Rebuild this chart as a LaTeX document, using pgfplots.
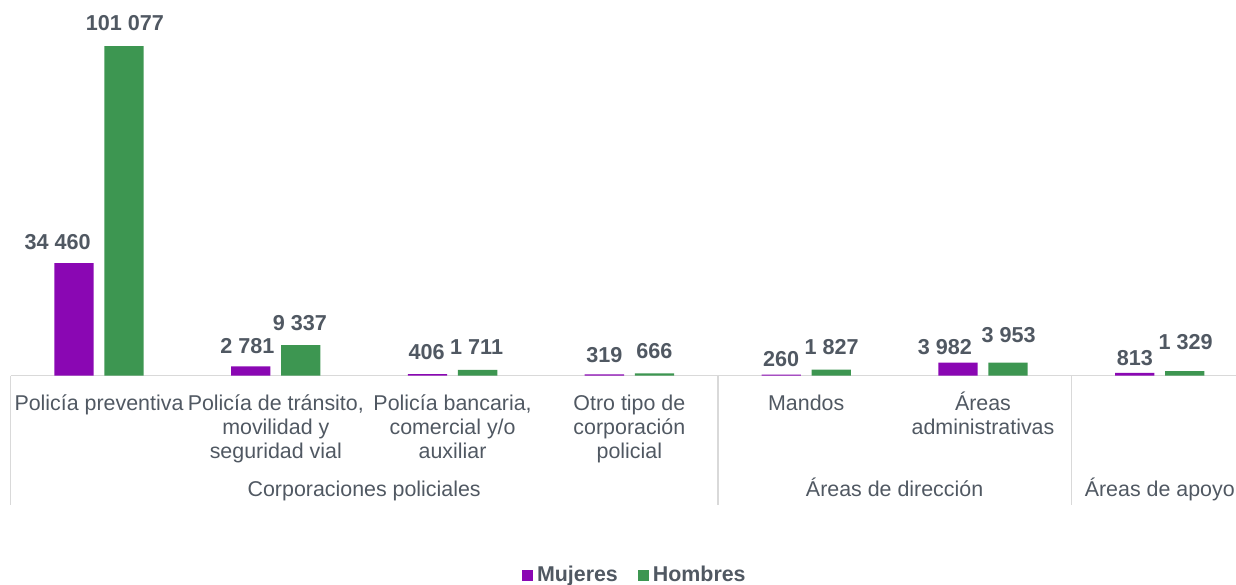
\documentclass[border=0pt]{standalone}
\usepackage{pgfplots}
\pgfplotsset{compat=1.18}
\usepackage{fontspec}
\setmainfont{Liberation Sans}
\definecolor{mpurple}{RGB}{138,7,179}
\definecolor{mgreen}{RGB}{61,150,81}
\definecolor{txt}{RGB}{80,88,98}
\definecolor{gridc}{RGB}{217,217,217}
\pgfplotstableread{
x y dx dy
0 34460 -8.15 10.45
1 2781 -1.65 10
2 406 -0.5 10.85
3 319 0 9.9
4 260 0 8
5 3982 -6.5 7.9
6 813 0 7.6
}\mujeres
\pgfplotstableread{
x y dx dy
0 101077 0.5 11.6
1 9337 -0.5 11
2 1711 -0.5 11.45
3 666 0 11.15
4 1827 0.25 11.25
5 3953 0.35 13.8
6 1329 0.4 14.6
}\hombres
\newcommand{\fs}{\rule{0pt}{10pt}}
\begin{document}
\begin{tikzpicture}
\path[use as bounding box] (-5.3pt,-104.25pt) rectangle (612.7pt,187.75pt);
\begin{axis}[
  at={(0pt,0pt)}, anchor=south west,
  scale only axis, width=618.8pt, height=164.75pt,
  xmin=-0.5, xmax=6.5, ymin=0, ymax=101077,
  enlargelimits=false, clip=false,
  axis y line=none, axis x line*=bottom,
  x axis line style={gridc, line width=0.8pt, -},
  xtick={0,...,6}, major tick length=0pt,
  xticklabels={{\fs Policía preventiva},{\fs Policía de tránsito,\\movilidad y\\seguridad vial},{\fs Policía bancaria,\\comercial y/o\\auxiliar},{\fs Otro tipo de\\corporación\\policial},{\fs Mandos},{\fs Áreas\\administrativas},{}},
  xticklabel style={font=\fontsize{10.7}{12}\selectfont, text=txt, align=center, anchor=north, inner sep=0pt, yshift=-7.3pt},
  ybar, bar width=19.65pt,
  visualization depends on={\thisrow{dx}\as\dx},
  visualization depends on={\thisrow{dy}\as\dy},
  nodes near coords={\pgfmathprintnumber[fixed, precision=0, 1000 sep={\ }, assume math mode=true]{\pgfplotspointmeta}},
  nodes near coords style={font=\fontsize{10.8}{12}\selectfont\bfseries, text=txt, anchor=center, inner sep=0pt, xshift=\dx pt, yshift=\dy pt},
  legend columns=2,
  legend style={at={(0.5052,-0.6055)}, anchor=center, draw=none, fill=none, font=\fontsize{10.7}{12}\selectfont\bfseries, text=txt, inner sep=0pt, /tikz/every even column/.append style={column sep=8pt}},
]
\addplot[fill=mpurple, draw=none, bar shift=-12.5pt, legend image code/.code={\fill[mpurple] (0pt,-2.75pt) rectangle (5.5pt,2.75pt);}] table[x=x,y=y] {\mujeres};
\addplot[fill=mgreen, draw=none, bar shift=12.5pt, legend image code/.code={\fill[mgreen] (0pt,-2.75pt) rectangle (5.5pt,2.75pt);}] table[x=x,y=y] {\hombres};
\legend{Mujeres,Hombres}
\draw[gridc, line width=0.8pt] (axis cs:-0.5,0) -- ([yshift=-64.75pt]axis cs:-0.5,0);
\draw[gridc, line width=0.8pt] (axis cs:3.5,0) -- ([yshift=-64.75pt]axis cs:3.5,0);
\draw[gridc, line width=0.8pt] (axis cs:5.5,0) -- ([yshift=-64.75pt]axis cs:5.5,0);
\node[font=\fontsize{10.7}{12}\selectfont, text=txt, anchor=base, inner sep=0pt] at ([yshift=-60.6pt]axis cs:1.5,0) {Corporaciones policiales};
\node[font=\fontsize{10.7}{12}\selectfont, text=txt, anchor=base, inner sep=0pt] at ([yshift=-60.6pt]axis cs:4.5,0) {Áreas de dirección};
\node[font=\fontsize{10.7}{12}\selectfont, text=txt, anchor=base, inner sep=0pt] at ([yshift=-60.6pt]axis cs:6,0) {Áreas de apoyo};
\end{axis}
\end{tikzpicture}
\end{document}
